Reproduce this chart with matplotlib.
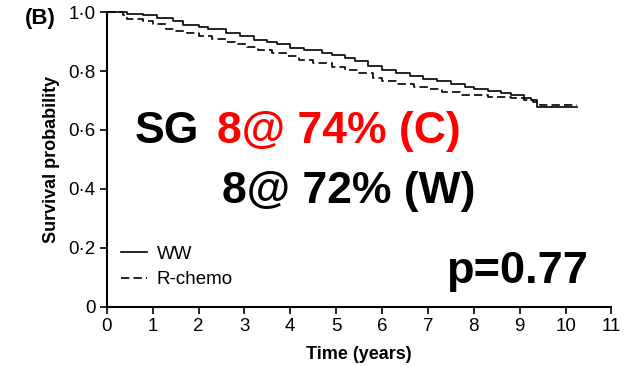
import numpy as np
import matplotlib.pyplot as plt

# Kaplan-Meier step data
ww_times = [0, 0.45, 0.8, 1.1, 1.45, 1.67, 2.0, 2.2, 2.6, 2.9, 3.2, 3.5, 3.7, 4.0,
            4.3, 4.7, 4.9, 5.2, 5.4, 5.7, 6.0, 6.3, 6.6, 6.9, 7.2, 7.5, 7.8, 8.0,
            8.3, 8.6, 8.8, 9.1, 9.25, 9.38, 10.25]
ww_surv = [1.0, 0.995, 0.99, 0.98, 0.97, 0.955, 0.948, 0.942, 0.93, 0.918, 0.905,
           0.898, 0.892, 0.878, 0.872, 0.862, 0.855, 0.845, 0.834, 0.818, 0.805,
           0.792, 0.782, 0.772, 0.765, 0.755, 0.745, 0.738, 0.732, 0.725, 0.718,
           0.71, 0.70, 0.678, 0.678]

rc_times = [0, 0.35, 0.45, 0.8, 1.0, 1.3, 1.5, 1.75, 2.0, 2.3, 2.6, 2.8, 3.05, 3.3,
            3.6, 3.93, 4.2, 4.5, 4.9, 5.2, 5.5, 5.8, 6.0, 6.3, 6.7, 7.0, 7.3, 7.7,
            8.3, 8.8, 9.1, 9.3, 9.45, 10.25]
rc_surv = [1.0, 0.99, 0.978, 0.969, 0.958, 0.942, 0.935, 0.928, 0.918, 0.91, 0.898,
           0.89, 0.882, 0.872, 0.862, 0.85, 0.838, 0.828, 0.815, 0.805, 0.792,
           0.775, 0.765, 0.755, 0.745, 0.738, 0.728, 0.718, 0.712, 0.708, 0.70,
           0.695, 0.686, 0.686]

x_ticks = list(range(0, 12))
y_ticks = [0, 0.2, 0.4, 0.6, 0.8, 1.0]
y_tick_labels = ["0", "0·2", "0·4", "0·6", "0·8", "1·0"]

plt.rcParams["font.family"] = ["Liberation Sans", "DejaVu Sans"]

fig = plt.figure(figsize=(6.43, 3.66), dpi=100)
ax = fig.add_axes([0.166, 0.162, 0.785, 0.805])

ax.step(ww_times, ww_surv, where="post", color="black", linewidth=1.2,
        clip_on=False, label="WW")
ax.step(rc_times, rc_surv, where="post", color="black", linewidth=1.2,
        linestyle=(0, (5, 2.5)), clip_on=False, label="R-chemo")

ax.set_xlim(0, 11)
ax.set_ylim(0, 1)
ax.set_xticks(x_ticks)
ax.set_yticks(y_ticks)
ax.set_yticklabels(y_tick_labels)
ax.tick_params(direction="out", length=5, width=1.2, labelsize=13.5, pad=3)
for side in ["top", "right"]:
    ax.spines[side].set_visible(False)
for side in ["left", "bottom"]:
    ax.spines[side].set_linewidth(1.5)

ax.set_xlabel("Time (years)", fontsize=13, fontweight="bold", labelpad=8)
ax.set_ylabel("Survival probability", fontsize=13, fontweight="bold", labelpad=6)

ax.legend(loc="lower left", bbox_to_anchor=(-0.005, 0.005), frameon=False,
          fontsize=13.5, handlelength=1.4, handletextpad=0.5, labelspacing=0.45)

fig.text(0.038, 0.95, "(B)", fontsize=16, fontweight="bold", va="center")
fig.text(0.21, 0.64, "SG", fontsize=32, fontweight="bold", va="center")
fig.text(0.338, 0.64, "8@ 74% (C)", fontsize=32, fontweight="bold",
         color="red", va="center")
fig.text(0.345, 0.478, "8@ 72% (W)", fontsize=32, fontweight="bold", va="center")
fig.text(0.693, 0.258, "p=0.77", fontsize=32.5, fontweight="bold", va="center")

fig.savefig("out.png", dpi=100)
